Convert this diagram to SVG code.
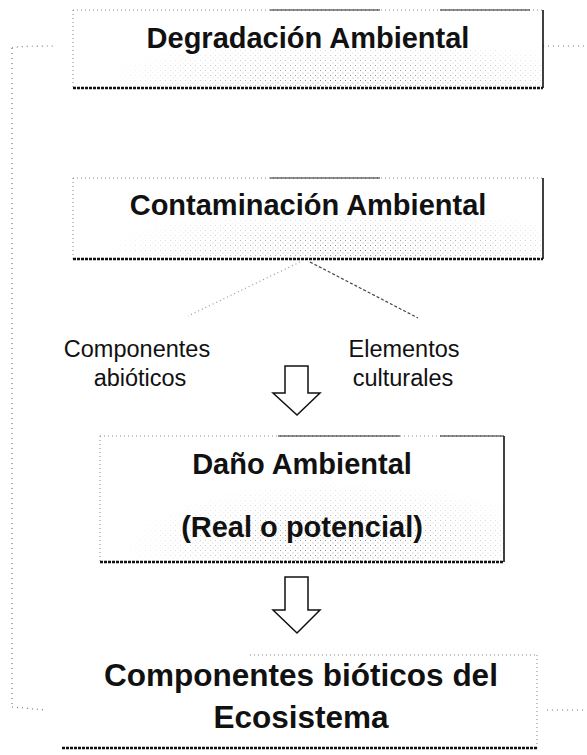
<svg xmlns="http://www.w3.org/2000/svg" width="587" height="755" viewBox="0 0 587 755">
<defs>
<style>
.bg{fill:#ffffff}
.dotted{fill:none;stroke:#8a8a8a;stroke-width:1;stroke-dasharray:1 3}
.solidtop{fill:none;stroke:#222;stroke-width:1.2}
.right{fill:none;stroke:#111;stroke-width:1.6}
.bottom{fill:none;stroke:#111;stroke-width:2.6;stroke-dasharray:3 1}
.title{font-family:"Liberation Sans",Arial,sans-serif;font-weight:bold;font-size:29px;fill:#111;text-anchor:middle}
.big{font-size:31.5px}
.label{font-family:"Liberation Sans",Arial,sans-serif;font-size:23.5px;fill:#111;text-anchor:middle}
.arrow{fill:#fff;stroke:#111;stroke-width:1.5}
.frame{fill:none;stroke:#777;stroke-width:1.2;stroke-dasharray:1 4}
.speck{fill:url(#dots);mask:url(#fade)}
</style>
<pattern id="dots" width="5" height="5" patternUnits="userSpaceOnUse">
<rect x="0" y="0" width="1" height="1" fill="#777"/>
<rect x="2.5" y="2.5" width="1" height="1" fill="#999"/>
</pattern>
<radialGradient id="fadeGrad" cx="0.6" cy="0.9" r="0.55">
<stop offset="0" stop-color="#fff"/>
<stop offset="1" stop-color="#000"/>
</radialGradient>
<mask id="fade" maskContentUnits="objectBoundingBox">
<rect x="0" y="0" width="1" height="1" fill="url(#fadeGrad)"/>
</mask>
</defs>
<rect class="bg" x="0" y="0" width="587" height="755"/>

<g id="frame">
<path class="frame" d="M12,48 L12,707"/>
<path class="frame" d="M12,48 Q16,46 55,46"/>
<path class="frame" d="M12,707 L45,710"/>
<path class="frame" d="M543,46 L587,46"/>
<path class="frame" d="M547,710 L587,710"/>
</g>

<g id="connectors">
<line x1="300" y1="262" x2="188" y2="316" stroke="#999" stroke-width="1.2" stroke-dasharray="1 3"/>
<line x1="310" y1="262" x2="418" y2="318" stroke="#444" stroke-width="1.2" stroke-dasharray="3 2"/>
<path id="arrow1" class="arrow" d="M285,366 H308 V393 H320 L297,415 L273,393 H285 Z"/>
<path id="arrow2" class="arrow" d="M285,577 H308 V610 H320 L297,633 L273,610 H285 Z"/>
</g>

<g id="degradacion">
<rect class="speck" x="73" y="10" width="470" height="78"/>
<line class="dotted" x1="73" y1="10" x2="543" y2="10"/>
<line class="solidtop" x1="270" y1="10" x2="380" y2="10"/>
<line class="solidtop" x1="440" y1="10" x2="530" y2="10"/>
<line class="dotted" x1="73" y1="10" x2="73" y2="88"/>
<line class="right" x1="543" y1="10" x2="543" y2="88"/>
<line class="bottom" x1="73" y1="88" x2="543" y2="88"/>
<text class="title" x="308" y="48">Degradación Ambiental</text>
</g>

<g id="contaminacion">
<rect class="speck" x="73" y="178" width="470" height="81"/>
<line class="dotted" x1="73" y1="178" x2="543" y2="178"/>
<line class="solidtop" x1="270" y1="178" x2="380" y2="178"/>
<line class="dotted" x1="73" y1="178" x2="73" y2="259"/>
<line class="right" x1="543" y1="178" x2="543" y2="259"/>
<line class="bottom" x1="73" y1="259" x2="543" y2="259"/>
<text class="title" x="308" y="215">Contaminación Ambiental</text>
</g>

<g id="abioticos">
<text class="label" x="137" y="357">Componentes</text>
<text class="label" x="140" y="386">abióticos</text>
</g>

<g id="culturales">
<text class="label" x="404" y="357">Elementos</text>
<text class="label" x="403" y="386">culturales</text>
</g>

<g id="dano">
<rect class="speck" x="100" y="436" width="404" height="126"/>
<line class="dotted" x1="100" y1="436" x2="504" y2="436"/>
<line class="solidtop" x1="278" y1="436" x2="400" y2="436"/>
<line class="solidtop" x1="440" y1="436" x2="504" y2="436"/>
<line class="dotted" x1="100" y1="436" x2="100" y2="562"/>
<line class="right" x1="504" y1="436" x2="504" y2="562"/>
<line class="bottom" x1="100" y1="562" x2="504" y2="562"/>
<text class="title" x="302" y="474">Daño Ambiental</text>
<text class="title" x="302" y="537">(Real o potencial)</text>
</g>

<g id="bioticos">
<line class="dotted" x1="250" y1="655" x2="537" y2="655"/>
<line class="dotted" x1="537" y1="655" x2="537" y2="748"/>
<line class="bottom" x1="62" y1="748" x2="537" y2="748"/>
<text class="title big" x="301" y="686">Componentes bióticos del</text>
<text class="title big" x="301" y="728">Ecosistema</text>
</g>
</svg>
